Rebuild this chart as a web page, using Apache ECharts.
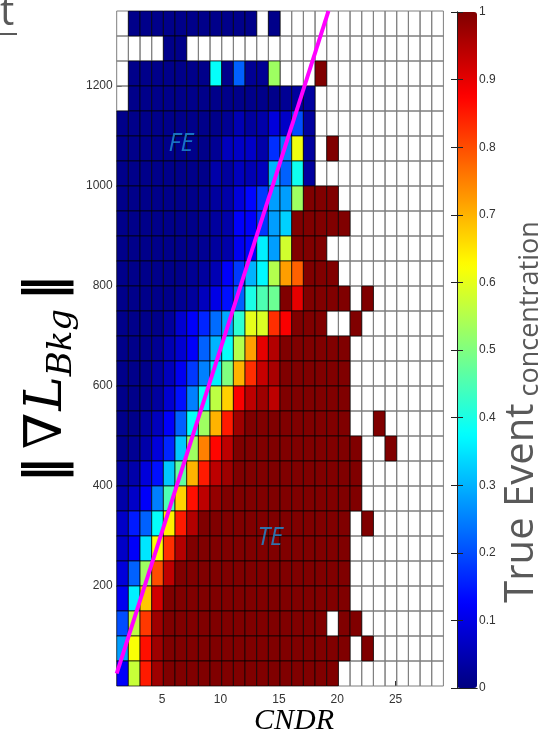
<!DOCTYPE html>
<html>
<head>
<meta charset="utf-8">
<script src="https://cdn.jsdelivr.net/npm/echarts@6/dist/echarts.min.js"></script>
<style>
  html, body { margin: 0; padding: 0; background: #fff; }
  #chartMain { width: 538px; height: 733px; }
</style>
</head>
<body>
<div id="chartMain"></div>
<script>
  // column centres (CNDR) and row centres (||grad L_Bkg||, top row first)
  const cndrCenters = [1.6, 2.6, 3.6, 4.6, 5.6, 6.6, 7.6, 8.6, 9.6, 10.6, 11.6, 12.6, 13.6, 14.6,
                       15.6, 16.6, 17.6, 18.6, 19.6, 20.6, 21.6, 22.6, 23.6, 24.6, 25.6, 26.6, 27.6, 28.6];
  const gradCenters = [1325, 1275, 1225, 1175, 1125, 1075, 1025, 975, 925, 875, 825, 775, 725, 675,
                       625, 575, 525, 475, 425, 375, 325, 275, 225, 175, 125, 75, 25];
  const cndrBinWidth = 1;
  const gradBinHeight = 50;

  const cndrTicks = [5, 10, 15, 20, 25];
  const gradTicks = [200, 400, 600, 800, 1000, 1200];
  const colorbarTicks = [0, 0.1, 0.2, 0.3, 0.4, 0.5, 0.6, 0.7, 0.8, 0.9, 1];

  // magenta separation line and region labels
  const boundaryLine = [[1.1, 25], [19.25, 1350]];
  const regionLabels = [
    { name: 'FE', value: [6.6, 1084] },
    { name: 'TE', value: [14.25, 296] }
  ];

  const _ = null;  // empty bin
  // True Event concentration, one row per gradient bin (top to bottom)
  const concentration = [
    [_, .01, .01, .01, .01, .01, .01, .01, .01, .01, .01, .01, _, .01, _, _, _, _, _, _, _, _, _, _, _, _, _, _],
    [_, _, _, _, .01, .01, _, _, _, _, _, _, _, _, _, _, _, _, _, _, _, _, _, _, _, _, _, _],
    [_, .01, .01, .01, .01, .01, .01, .01, .38, .01, .22, .02, .02, .53, _, _, _, 1, _, _, _, _, _, _, _, _, _, _],
    [_, .01, .01, .01, .01, .01, .01, .01, .01, .01, .01, .01, .01, .01, .02, .03, .03, _, _, _, _, _, _, _, _, _, _, _],
    [.01, .01, .01, .01, .01, .01, .01, .01, .01, .02, .05, .03, .04, .09, .07, .2, .03, _, _, _, _, _, _, _, _, _, _, _],
    [.01, .01, .01, .01, .01, .01, .01, .01, .02, .06, .07, .07, .04, .17, .25, .61, .03, _, 1, _, _, _, _, _, _, _, _, _],
    [.01, .01, .01, .01, .01, .01, .01, .01, .04, .03, .06, .05, .06, .3, .22, .39, .03, _, _, _, _, _, _, _, _, _, _, _],
    [.01, .01, .01, .01, .01, .01, .01, .02, .03, .04, .09, .13, .18, .28, .28, .53, 1, 1, 1, _, _, _, _, _, _, _, _, _],
    [.01, .01, .01, .01, .01, .01, .01, .02, .03, .04, .12, .12, .18, .28, .33, 1, 1, 1, 1, 1, _, _, _, _, _, _, _, _],
    [.01, .01, .01, .01, .01, .01, .01, .02, .03, .04, .11, .13, .36, .28, .58, 1, 1, 1, _, _, _, _, _, _, _, _, _, _],
    [.01, .01, .01, .01, .01, .01, .02, .03, .05, .12, .18, .3, .37, .55, .72, .78, 1, 1, 1, _, _, _, _, _, _, _, _, _],
    [.01, .01, .01, .01, .01, .02, .03, .06, .1, .14, .22, .4, .45, .48, 1, .9, 1, 1, 1, 1, _, 1, _, _, _, _, _, _],
    [.01, .01, .01, .01, .03, .08, .12, .16, .23, .29, .42, .6, .59, .83, .88, 1, 1, 1, _, _, 1, _, _, _, _, _, _, _],
    [.01, .01, .01, .02, .05, .08, .12, .22, .3, .38, .55, .72, .9, .95, 1, 1, 1, 1, 1, 1, _, _, _, _, _, _, _, _],
    [.01, .01, .01, .03, .06, .11, .18, .25, .36, .5, .7, .83, .93, .96, 1, 1, 1, 1, 1, 1, _, _, _, _, _, _, _, _],
    [.01, .01, .01, .03, .08, .14, .25, .38, .56, .67, .88, .94, .97, .94, 1, 1, 1, 1, 1, 1, _, _, _, _, _, _, _, _],
    [.01, .01, .03, .06, .12, .22, .38, .53, .7, .85, .97, 1, 1, 1, 1, 1, 1, 1, 1, 1, _, _, 1, _, _, _, _, _],
    [.01, .02, .04, .09, .16, .32, .53, .75, .87, .94, 1, 1, 1, 1, 1, 1, 1, 1, 1, 1, 1, _, _, 1, _, _, _, _],
    [.03, .04, .09, .14, .32, .47, .7, .85, .94, .97, 1, 1, 1, 1, 1, 1, 1, 1, 1, 1, 1, _, _, _, _, _, _, _],
    [.04, .07, .12, .25, .45, .67, .86, .94, .98, 1, 1, 1, 1, 1, 1, 1, 1, 1, 1, 1, 1, _, _, _, _, _, _, _],
    [.07, .15, .22, .38, .64, .85, .95, 1, 1, 1, 1, 1, 1, 1, 1, 1, 1, 1, 1, 1, _, 1, _, _, _, _, _, _],
    [.07, .12, .35, .62, .83, .95, 1, 1, 1, 1, 1, 1, 1, 1, 1, 1, 1, 1, 1, 1, _, _, _, _, _, _, _, _],
    [.09, .22, .53, .8, .94, 1, 1, 1, 1, 1, 1, 1, 1, 1, 1, 1, 1, 1, 1, 1, _, _, _, _, _, _, _, _],
    [.11, .36, .68, .92, 1, 1, 1, 1, 1, 1, 1, 1, 1, 1, 1, 1, 1, 1, 1, 1, _, _, _, _, _, _, _, _],
    [.2, .56, .82, .97, 1, 1, 1, 1, 1, 1, 1, 1, 1, 1, 1, 1, 1, 1, _, 1, 1, _, _, _, _, _, _, _],
    [.28, .62, .86, .97, 1, 1, 1, 1, 1, 1, 1, 1, 1, 1, 1, 1, 1, 1, 1, 1, _, 1, _, _, _, _, _, _],
    [.12, .57, .85, .97, 1, 1, 1, 1, 1, 1, 1, 1, 1, 1, 1, 1, 1, 1, 1, _, _, _, _, _, _, _, _, _]
  ];

  const jet = ['#000080', '#0000ff', '#0080ff', '#00ffff', '#80ff80', '#ffff00', '#ff8000', '#ff0000', '#800000'];

  // split into filled and empty bins
  let filledCells = [], emptyCells = [];
  concentration.forEach((row, r) => {
    row.forEach((v, c) => {
      if (v === null) emptyCells.push([cndrCenters[c], gradCenters[r]]);
      else filledCells.push([cndrCenters[c], gradCenters[r], v]);
    });
  });

  function cellRect(api) {
    let x = api.value(0), y = api.value(1);
    let p0 = api.coord([x - cndrBinWidth / 2, y + gradBinHeight / 2]);
    let p1 = api.coord([x + cndrBinWidth / 2, y - gradBinHeight / 2]);
    return { x: p0[0], y: p0[1], width: p1[0] - p0[0], height: p1[1] - p0[1] };
  }

  let myChart = echarts.init(document.getElementById('chartMain'));

  let labelFont = { fontFamily: 'Liberation Sans', fontSize: 12, color: '#333' };
  let plain = (v) => String(+(+v).toFixed(1));

  myChart.setOption({
    animation: false,
    backgroundColor: '#fff',
    grid: [
      { left: 116.7, top: 11, width: 326.7, height: 675 },
      { left: 457, top: 12, width: 20, height: 676 }
    ],
    xAxis: [
      {
        gridIndex: 0, type: 'value', min: 1.1, max: 29.1,
        axisLine: { show: false },
        axisTick: { show: true, inside: true, length: 5, customValues: cndrTicks, lineStyle: { color: '#333' } },
        axisLabel: Object.assign({ customValues: cndrTicks, margin: 8, formatter: plain }, labelFont),
        splitLine: { show: false }
      },
      {
        gridIndex: 1, type: 'value', min: 0, max: 1, position: 'bottom', z: 10,
        axisLine: { show: true, lineStyle: { color: '#222', width: 1 } },
        axisTick: { show: false }, axisLabel: { show: false }, splitLine: { show: false }
      },
      {
        gridIndex: 1, type: 'value', min: 0, max: 1, position: 'top', z: 10,
        axisLine: { show: true, lineStyle: { color: '#222', width: 1 } },
        axisTick: { show: false }, axisLabel: { show: false }, splitLine: { show: false }
      }
    ],
    yAxis: [
      {
        gridIndex: 0, type: 'value', min: 0, max: 1350,
        axisLine: { show: false },
        axisTick: { show: true, inside: true, length: 5, customValues: gradTicks, lineStyle: { color: '#333' } },
        axisLabel: Object.assign({ customValues: gradTicks, margin: 4, formatter: plain }, labelFont),
        splitLine: { show: false }
      },
      {
        gridIndex: 1, type: 'value', min: 0, max: 1, interval: 0.1, position: 'left', z: 10,
        axisLine: { show: true, lineStyle: { color: '#222', width: 1 } },
        axisTick: { show: true, inside: true, length: 6, lineStyle: { color: '#222' } },
        axisLabel: { show: false }, splitLine: { show: false }
      },
      {
        gridIndex: 1, type: 'value', min: 0, max: 1, interval: 0.1, position: 'right', z: 10,
        axisLine: { show: true, lineStyle: { color: '#222', width: 1 } },
        axisTick: { show: true, inside: true, length: 6, lineStyle: { color: '#222' } },
        axisLabel: Object.assign({ customValues: colorbarTicks, margin: 2, formatter: plain }, labelFont),
        splitLine: { show: false }
      }
    ],
    visualMap: {
      type: 'continuous', min: 0, max: 1, seriesIndex: 1, dimension: 2,
      calculable: false, hoverLink: false, orient: 'vertical',
      left: 457, top: 12, itemWidth: 20, itemHeight: 676, padding: 0,
      inRange: { color: jet }
    },
    series: [
      {
        name: 'empty',
        type: 'custom',
        xAxisIndex: 0, yAxisIndex: 0,
        data: emptyCells,
        renderItem: (params, api) => ({
          type: 'rect',
          shape: cellRect(api),
          style: { fill: 'none', stroke: '#7f7f7f', lineWidth: 1 }
        }),
        z: 2
      },
      {
        name: 'concentration',
        type: 'custom',
        xAxisIndex: 0, yAxisIndex: 0,
        data: filledCells,
        renderItem: (params, api) => ({
          type: 'rect',
          shape: cellRect(api),
          style: { fill: api.visual('color'), stroke: '#000', lineWidth: 0.7 }
        }),
        z: 3
      },
      {
        name: 'boundary',
        type: 'line',
        xAxisIndex: 0, yAxisIndex: 0,
        data: boundaryLine,
        symbol: 'none',
        clip: true,
        lineStyle: { color: '#ff00ff', width: 4 },
        z: 5
      },
      {
        name: 'regions',
        type: 'scatter',
        xAxisIndex: 0, yAxisIndex: 0,
        data: regionLabels,
        symbolSize: 0,
        label: {
          show: true, position: 'inside', formatter: '{b}',
          fontFamily: 'Open Sans', fontStyle: 'italic', fontSize: 25, color: '#1e8fd5'
        },
        z: 6
      }
    ],
    graphic: [
      {
        type: 'text', x: 0, y: 34,
        style: { text: 't', font: '40px "Open Sans"', fill: '#595959', verticalAlign: 'bottom' }
      },
      { type: 'rect', shape: { x: 0, y: 33, width: 17, height: 2 }, style: { fill: '#595959' } },
      {
        type: 'text', x: 294, y: 721,
        style: { text: 'CNDR', font: 'italic 30px "Liberation Serif"', fill: '#000', align: 'center', verticalAlign: 'middle' }
      },
      {
        type: 'text', x: 47, y: 379, rotation: Math.PI / 2,
        style: {
          text: '{n|‖}{g|∇}{l|L}{s|Bkg}{m|‖}',
          align: 'center', verticalAlign: 'middle',
          rich: {
            n: { font: 'bold 52px "DejaVu Serif"', fill: '#000', lineHeight: 64, padding: [0, 8, 0, 0] },
            m: { font: 'bold 52px "DejaVu Serif"', fill: '#000', lineHeight: 64, padding: [0, 0, 0, 8] },
            g: { font: '52px "DejaVu Serif"', fill: '#000', lineHeight: 64, padding: [0, 2, 0, 0] },
            l: { font: 'italic 52px "DejaVu Serif"', fill: '#000', lineHeight: 64 },
            s: { font: 'italic 34px "DejaVu Serif"', fill: '#000', lineHeight: 34, verticalAlign: 'bottom' }
          }
        }
      },
      {
        type: 'text', x: 522, y: 412, rotation: Math.PI / 2,
        style: {
          text: '{a|True Event}{b| concentration}',
          align: 'center', verticalAlign: 'middle',
          rich: {
            a: { font: '40px "Open Sans"', fill: '#595959', lineHeight: 44 },
            b: { font: '27px "Open Sans"', fill: '#595959', lineHeight: 32, verticalAlign: 'bottom' }
          }
        }
      }
    ]
  });
</script>
</body>
</html>
